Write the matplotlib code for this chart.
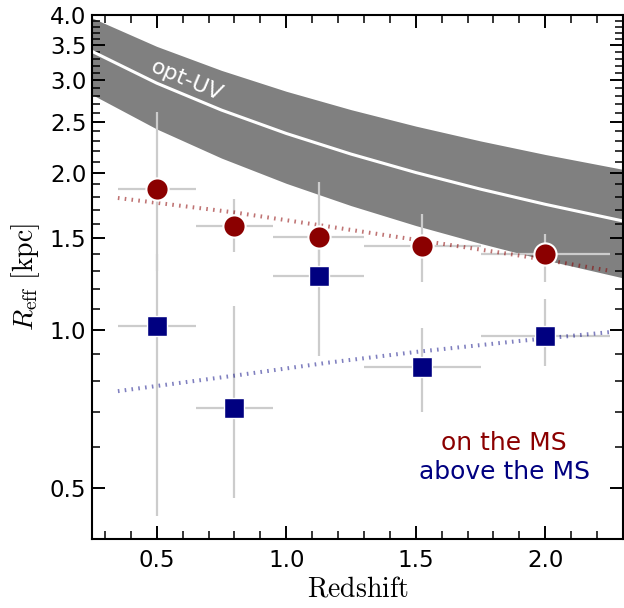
import numpy as np
import matplotlib
matplotlib.use("Agg")
import matplotlib.pyplot as plt
from matplotlib.ticker import FixedLocator, MultipleLocator, FormatStrFormatter, NullFormatter

plt.rcParams['mathtext.fontset'] = 'cm'
plt.rcParams['font.family'] = ['DejaVu Sans']

# ---- data ----
# redshift bins (centres and edges)
z_on = np.array([0.50, 0.80, 1.125, 1.525, 2.00])
z_above = np.array([0.50, 0.80, 1.125, 1.525, 2.00])
bin_lo = np.array([0.35, 0.65, 0.95, 1.30, 1.75])
bin_hi = np.array([0.65, 0.95, 1.30, 1.75, 2.25])

# galaxies on the main sequence
r_on = np.array([1.86, 1.58, 1.51, 1.45, 1.40])
r_on_lo = np.array([1.30, 1.41, 1.35, 1.24, 1.24])
r_on_hi = np.array([2.61, 1.78, 1.92, 1.665, 1.525])

# galaxies above the main sequence
r_above = np.array([1.02, 0.71, 1.27, 0.85, 0.975])
r_above_lo = np.array([0.442, 0.480, 0.893, 0.698, 0.855])
r_above_hi = np.array([1.40, 1.116, 1.50, 1.013, 1.146])

# dotted trend lines
fit_z = np.array([0.35, 0.80, 1.16, 1.50, 1.90, 2.25])
fit_on = np.array([1.79, 1.68, 1.58, 1.49, 1.39, 1.30])
fit_above = np.array([0.766, 0.82, 0.868, 0.91, 0.955, 0.993])

# optical-UV size band
band_z = np.array([0.25, 0.50, 0.75, 1.00, 1.25, 1.50, 1.75, 2.00, 2.30])
band_hi = np.array([3.95, 3.485, 3.136, 2.861, 2.639, 2.455, 2.300, 2.167, 2.030])
band_mid = np.array([3.41, 2.965, 2.634, 2.377, 2.171, 2.002, 1.861, 1.741, 1.618])
band_lo = np.array([2.82, 2.424, 2.133, 1.909, 1.731, 1.586, 1.466, 1.363, 1.260])

y_major = [0.5, 1.0, 1.5, 2.0, 2.5, 3.0, 3.5, 4.0]

# ---- figure ----
fig = plt.figure(figsize=(6.24, 6.08), dpi=100)
ax = fig.add_axes([0.1474, 0.1135, 0.8510, 0.8618])

ax.fill_between(band_z, band_lo, band_hi, color='#808080', lw=0, zorder=1)
ax.plot(band_z, band_mid, color='white', lw=2.2, zorder=2)
ax.text(0.179, 0.874, 'opt-UV', transform=ax.transAxes, color='white',
        fontsize=16, rotation=-23, ha='center', va='center', zorder=2)

ax.errorbar(z_on, r_on, xerr=[z_on - bin_lo, bin_hi - z_on],
            yerr=[r_on - r_on_lo, r_on_hi - r_on], fmt='none',
            ecolor='#cccccc', elinewidth=1.6, capsize=0, zorder=3)
ax.errorbar(z_above, r_above, xerr=[z_above - bin_lo, bin_hi - z_above],
            yerr=[r_above - r_above_lo, r_above_hi - r_above], fmt='none',
            ecolor='#cccccc', elinewidth=1.6, capsize=0, zorder=3)

ax.plot(fit_z, fit_on, color='darkred', alpha=0.55, lw=2.9,
        linestyle=(0, (0.4, 1.3)), zorder=4)
ax.plot(fit_z, fit_above, color='navy', alpha=0.5, lw=2.9,
        linestyle=(0, (0.4, 1.3)), zorder=4)

ax.plot(z_on, r_on, 'o', ms=16, mfc='darkred', mec='white', mew=1.5, zorder=5)
ax.plot(z_above, r_above, 's', ms=15, mfc='navy', mec='white', mew=1.0, zorder=5)

ax.text(0.776, 0.183, 'on the MS', transform=ax.transAxes, color='darkred',
        fontsize=18, ha='center', va='center')
ax.text(0.776, 0.128, 'above the MS', transform=ax.transAxes, color='navy',
        fontsize=18, ha='center', va='center')

ax.set_yscale('log')
ax.set_xlim(0.25, 2.3)
ax.set_ylim(0.4, 4.0)
ax.yaxis.set_major_locator(FixedLocator(y_major))
ax.yaxis.set_major_formatter(FormatStrFormatter('%.1f'))
ax.yaxis.set_minor_locator(FixedLocator(np.round(np.arange(0.4, 4.01, 0.1), 2)))
ax.yaxis.set_minor_formatter(NullFormatter())
ax.xaxis.set_major_locator(MultipleLocator(0.5))
ax.xaxis.set_minor_locator(MultipleLocator(0.1))

ax.tick_params(which='both', direction='in', top=True, right=True)
ax.tick_params(which='major', length=9.5, width=1.4, labelsize=16.5)
ax.tick_params(which='minor', length=6, width=1.1)
ax.tick_params(axis='x', which='major', pad=7)
ax.tick_params(axis='y', which='major', pad=4)
for s in ax.spines.values():
    s.set_linewidth(1.5)

ax.set_xlabel(r'$\rm Redshift$', fontsize=20)
ax.set_ylabel(r'$R_{\rm eff}\ [\rm kpc]$', fontsize=20)
ax.xaxis.set_label_coords(0.5, -0.068)
ax.yaxis.set_label_coords(-0.094, 0.5)

fig.savefig('out.png', dpi=100)
